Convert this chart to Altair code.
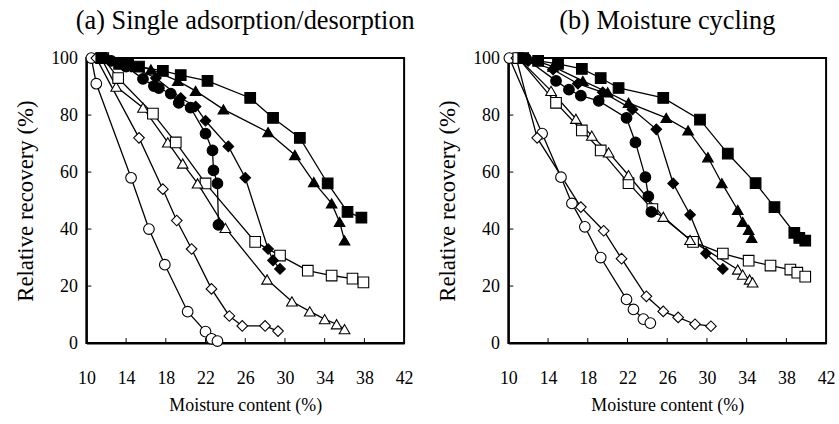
import altair as alt
import pandas as pd

# ---------------- data ----------------
SERIES = ["open circle", "open diamond", "open triangle", "open square",
          "filled circle", "filled diamond", "filled triangle", "filled square"]
SHAPES = ["circle", "diamond", "triangle-up", "square",
          "circle", "diamond", "triangle-up", "square"]
FILLS = ["white", "white", "white", "white", "black", "black", "black", "black"]

X_TICKS = [10, 14, 18, 22, 26, 30, 34, 38, 42]
Y_TICKS = [0, 20, 40, 60, 80, 100]

# (a) Single adsorption/desorption
a_open_circle_x = [10.5, 11.0, 14.5, 16.3, 17.9, 20.2, 22.0, 22.6, 23.2]
a_open_circle_y = [100, 91, 58, 40, 27.5, 11, 4, 1.5, 0.7]
a_open_diamond_x = [11.0, 15.3, 17.7, 19.1, 20.6, 22.6, 24.4, 25.7, 28.0, 29.3]
a_open_diamond_y = [100, 72, 54, 43, 33, 19, 9.5, 6, 6, 4.2]
a_open_triangle_x = [11.5, 13.0, 15.7, 18.2, 19.7, 21.2, 24.0, 28.2, 30.7, 32.5, 34.0, 35.2, 36.0]
a_open_triangle_y = [100, 90, 82.6, 70.4, 63, 56, 40.4, 22.3, 14.6, 11.1, 8.4, 6.6, 4.9]
a_open_square_x = [11.7, 13.2, 16.7, 19.0, 22.0, 27.0, 29.5, 32.3, 34.7, 36.8, 37.9]
a_open_square_y = [100, 93, 80.5, 70.4, 56, 35.5, 30.7, 25.4, 23.7, 22.6, 21.3]
a_filled_circle_x = [12.5, 14.0, 15.7, 16.8, 17.3, 18.5, 19.3, 20.5, 22.0, 22.7, 22.8, 23.2, 23.3]
a_filled_circle_y = [99, 97, 92.7, 90.2, 89.5, 87.5, 84.3, 82.6, 73.5, 67.6, 60.6, 56, 41.5]
a_filled_diamond_x = [12.0, 14.5, 17.0, 19.5, 21.0, 22.0, 24.3, 26.0, 28.3, 28.8, 29.5]
a_filled_diamond_y = [100, 97, 93, 86, 83, 78, 69, 58, 33, 29, 26]
a_filled_triangle_x = [12.0, 14.0, 16.5, 19.2, 21.0, 23.8, 28.3, 31.0, 32.9, 34.7, 35.5, 36.0]
a_filled_triangle_y = [100, 98, 96, 92, 88.5, 82, 74, 66, 56.5, 49, 42.5, 36]
a_filled_square_x = [11.5, 13.3, 14.2, 15.3, 17.7, 19.5, 22.2, 26.5, 28.8, 31.5, 34.3, 36.3, 37.7]
a_filled_square_y = [100, 98, 98, 97, 95.5, 94, 92, 86, 79, 72, 56, 46, 44]

# (b) Moisture cycling
b_open_circle_x = [10.1, 13.4, 15.3, 16.4, 17.7, 19.3, 21.9, 22.6, 23.6, 24.3]
b_open_circle_y = [100, 73.5, 58.2, 49, 40.8, 30, 15.3, 11.8, 8.4, 7]
b_open_diamond_x = [10.8, 12.9, 17.3, 19.6, 21.4, 23.9, 25.6, 27.1, 28.8, 30.4]
b_open_diamond_y = [100, 72, 47.7, 39.4, 29.6, 16.4, 11.1, 9, 6.6, 5.9]
b_open_triangle_x = [11.0, 14.3, 16.8, 18.4, 20.1, 22.1, 25.6, 28.3, 33.1, 33.6, 34.3, 34.6]
b_open_triangle_y = [100, 88.5, 78.7, 72.8, 66.9, 58.9, 44.3, 36.2, 25.8, 24, 22.3, 21.3]
b_open_square_x = [11.0, 14.8, 17.4, 19.3, 22.1, 24.5, 28.6, 31.6, 34.2, 36.4, 38.4, 39.1, 39.9]
b_open_square_y = [100, 84.3, 74.6, 67.6, 56.1, 47, 35.5, 31.4, 28.9, 27.2, 25.8, 24.7, 23.3]
b_filled_circle_x = [11.8, 14.8, 16.1, 17.3, 19.1, 21.9, 22.8, 23.8, 24.1, 24.4]
b_filled_circle_y = [99.7, 92, 88.9, 86.8, 85, 79, 70.4, 58.2, 51.5, 46]
b_filled_diamond_x = [12.0, 14.5, 17.0, 19.5, 22.5, 24.9, 26.6, 28.3, 29.9, 31.6]
b_filled_diamond_y = [99, 96, 91, 88, 82, 75, 56, 45, 31.5, 26]
b_filled_triangle_x = [12.0, 14.5, 17.5, 20.0, 22.1, 25.9, 28.1, 30.1, 31.5, 33.1, 33.6, 34.2, 34.5]
b_filled_triangle_y = [100, 97, 92, 88, 84.3, 79, 74.6, 65.2, 56.1, 46.7, 42.5, 39.7, 36.9]
b_filled_square_x = [11.5, 13.0, 15.0, 17.4, 19.3, 21.1, 25.6, 29.3, 32.1, 34.9, 36.8, 38.8, 39.3, 39.9]
b_filled_square_y = [100, 99, 98, 96.2, 93, 89.5, 86, 78.4, 66.5, 56.1, 47.7, 38.7, 36.9, 35.9]

PANEL_A = [
    (a_open_circle_x, a_open_circle_y), (a_open_diamond_x, a_open_diamond_y),
    (a_open_triangle_x, a_open_triangle_y), (a_open_square_x, a_open_square_y),
    (a_filled_circle_x, a_filled_circle_y), (a_filled_diamond_x, a_filled_diamond_y),
    (a_filled_triangle_x, a_filled_triangle_y), (a_filled_square_x, a_filled_square_y),
]
PANEL_B = [
    (b_open_circle_x, b_open_circle_y), (b_open_diamond_x, b_open_diamond_y),
    (b_open_triangle_x, b_open_triangle_y), (b_open_square_x, b_open_square_y),
    (b_filled_circle_x, b_filled_circle_y), (b_filled_diamond_x, b_filled_diamond_y),
    (b_filled_triangle_x, b_filled_triangle_y), (b_filled_square_x, b_filled_square_y),
]

FONT = "Liberation Serif, Times New Roman, serif"
W, H = 320, 287
X_TITLE = "Moisture content (%)"
Y_TITLE = "Relative recovery (%)"


def to_df(panel):
    rows = []
    for name, (xs, ys) in zip(SERIES, panel):
        for i, (xv, yv) in enumerate(zip(xs, ys)):
            rows.append({"x": xv, "y": yv, "series": name, "i": i})
    return pd.DataFrame(rows)


xscale = alt.Scale(domain=[10, 42], nice=False, zero=False)
yscale = alt.Scale(domain=[0, 100], nice=False, zero=False)

x_axis = alt.Axis(values=X_TICKS, title=X_TITLE, grid=False, tickSize=0,
                  labelPadding=27, titlePadding=9, labelFontSize=18,
                  titleFontSize=18, titleFontWeight="normal", labelFont=FONT,
                  titleFont=FONT, domainColor="black", domainWidth=2,
                  labelColor="black", titleColor="black", labelFlush=False)
y_axis = alt.Axis(values=Y_TICKS, title=Y_TITLE, grid=False, tickSize=0,
                  labelPadding=9, titlePadding=13, labelFontSize=18,
                  titleFontSize=23, titleFontWeight="normal", labelFont=FONT,
                  titleFont=FONT, domainColor="black", domainWidth=2,
                  labelColor="black", titleColor="black")


def panel(panel_data, title):
    df = to_df(panel_data)
    base = alt.Chart(df)
    X = alt.X("x:Q", scale=xscale, axis=x_axis, title=X_TITLE)
    Y = alt.Y("y:Q", scale=yscale, axis=y_axis, title=Y_TITLE)
    lines = base.mark_line(color="black", strokeWidth=1.3).encode(
        x=X, y=Y, detail="series:N", order="i:Q")
    points = base.mark_point(filled=True, stroke="black", strokeWidth=1.1,
                             opacity=1, size=115).encode(
        x=X, y=Y,
        shape=alt.Shape("series:N", scale=alt.Scale(domain=SERIES, range=SHAPES), legend=None),
        fill=alt.Fill("series:N", scale=alt.Scale(domain=SERIES, range=FILLS), legend=None),
        order="i:Q")
    xt = alt.Chart(pd.DataFrame({"x": X_TICKS[1:-1]})).mark_rule(
        color="black", strokeWidth=1).encode(
        x=alt.X("x:Q", scale=xscale, axis=x_axis, title=X_TITLE),
        y=alt.value(H), y2=alt.value(H - 5))
    yt = alt.Chart(pd.DataFrame({"y": Y_TICKS[1:-1]})).mark_rule(
        color="black", strokeWidth=1).encode(
        y=alt.Y("y:Q", scale=yscale, axis=y_axis, title=Y_TITLE),
        x=alt.value(0), x2=alt.value(5))
    return alt.layer(xt, yt, lines, points).properties(
        width=W, height=H,
        title=alt.TitleParams(title, font=FONT, fontSize=26.5, fontWeight="normal",
                              color="black", anchor="middle", offset=15))


chart = alt.hconcat(
    panel(PANEL_A, "(a) Single adsorption/desorption"),
    panel(PANEL_B, "(b) Moisture cycling"),
    spacing=20,
).properties(
    padding={"left": 14, "top": 5, "right": 3, "bottom": 2},
    background="white",
).configure(font=FONT).configure_view(stroke="black", strokeWidth=2)

chart.save("out.html", embed_options={"renderer": "svg", "actions": False})
